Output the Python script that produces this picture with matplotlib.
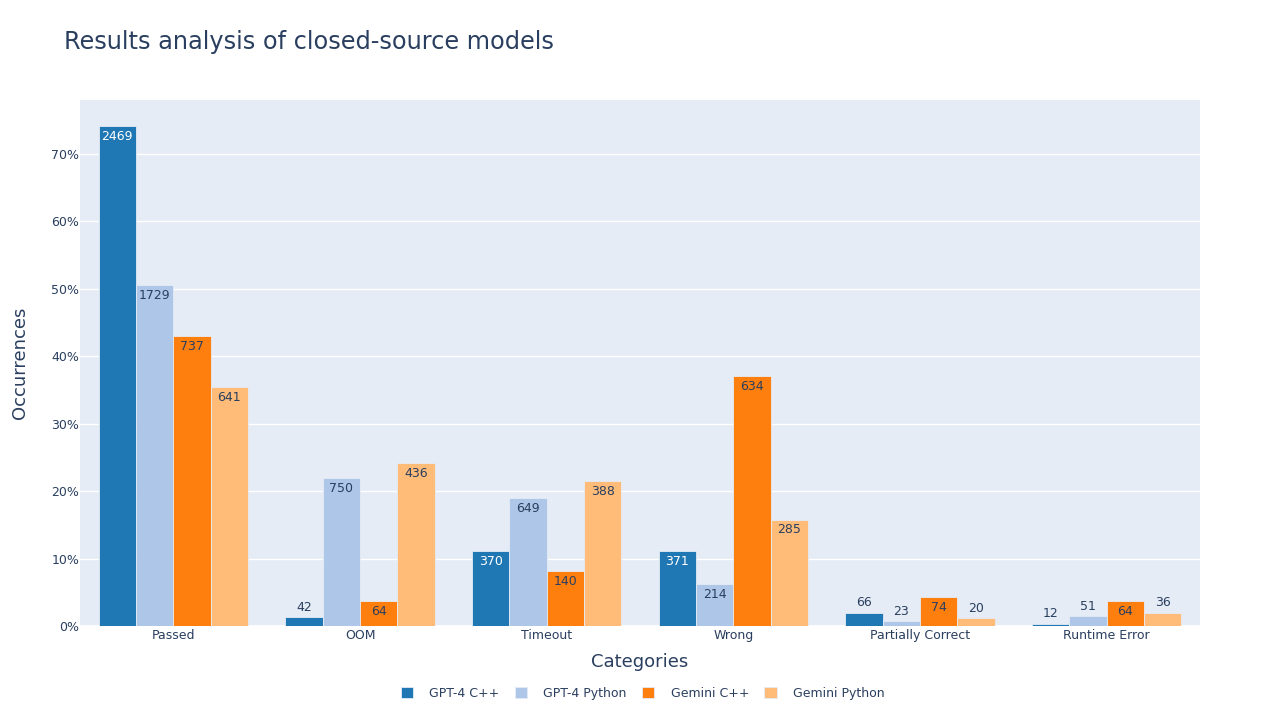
import matplotlib.pyplot as plt
import numpy as np

# ==========================================
# data
# ==========================================
categories = ['Passed', 'OOM', 'Timeout', 'Wrong', 'Partially Correct', 'Runtime Error']
series_names = ['GPT-4 C++', 'GPT-4 Python', 'Gemini C++', 'Gemini Python']

gpt4_cpp = [2469, 42, 370, 371, 66, 12]
gpt4_python = [1729, 750, 649, 214, 23, 51]
gemini_cpp = [737, 64, 140, 634, 74, 64]
gemini_python = [641, 436, 388, 285, 20, 36]

y_ticks = [0, 10, 20, 30, 40, 50, 60, 70]

colors = ['#1f77b4', '#aec7e8', '#ff7f0e', '#ffbb78']
text_inside_colors = ['white', '#2a3f5f', '#2a3f5f', '#2a3f5f']
font_color = '#2a3f5f'
bg_color = '#E5ECF6'

# ==========================================
# figure
# ==========================================
plt.rcParams['font.family'] = ['DejaVu Sans']

fig = plt.figure(figsize=(12.8, 7.2), dpi=100)
ax = fig.add_axes([0.0625, 0.1306, 0.875, 0.7306])
ax.set_facecolor(bg_color)

all_series = [gpt4_cpp, gpt4_python, gemini_cpp, gemini_python]
x = np.arange(len(categories))
width = 0.2
offsets = [-0.3, -0.1, 0.1, 0.3]

for i, counts in enumerate(all_series):
    counts = np.array(counts)
    pct = counts / counts.sum() * 100
    ax.bar(x + offsets[i], pct, width=width, color=colors[i],
           edgecolor=bg_color, linewidth=0.6, label=series_names[i], zorder=3)
    for xi, p, c in zip(x + offsets[i], pct, counts):
        if p > 2.5:
            # label inside, near the top of the bar
            ax.annotate(str(c), (xi, p), xytext=(0, -7.5), textcoords='offset points',
                        ha='center', va='center', fontsize=9,
                        color=text_inside_colors[i], zorder=4)
        else:
            # too short: label above the bar
            ax.annotate(str(c), (xi, p), xytext=(0, 7), textcoords='offset points',
                        ha='center', va='center', fontsize=9,
                        color=font_color, zorder=4)

ax.set_xlim(-0.5, len(categories) - 0.5)
ax.set_ylim(0, 78)
ax.set_yticks(y_ticks)
ax.set_yticklabels([f'{t}%' for t in y_ticks])
ax.set_xticks(x)
ax.set_xticklabels(categories)

ax.grid(True, axis='y', color='white', linewidth=1, zorder=0)
ax.axhline(0, color='white', linewidth=2, zorder=2)
ax.set_axisbelow(True)
for s in ax.spines.values():
    s.set_visible(False)
ax.tick_params(axis='both', length=0, labelsize=9, labelcolor=font_color)
ax.tick_params(axis='x', pad=2)
ax.tick_params(axis='y', pad=0.5)

ax.set_xlabel('Categories', fontsize=13, color=font_color, labelpad=8)
ax.set_ylabel('Occurrences', fontsize=13, color=font_color, labelpad=16)

fig.text(0.05, 0.942, 'Results analysis of closed-source models', fontsize=17.3,
         color=font_color, ha='left', va='center')

leg = ax.legend(loc='center', ncol=4, frameon=False, fontsize=9,
                handlelength=1.0, handleheight=1.0,
                handletextpad=1.3, columnspacing=1.2,
                bbox_to_anchor=(0.502, 0.037), bbox_transform=fig.transFigure)
for t in leg.get_texts():
    t.set_color(font_color)

fig.savefig('out.png', dpi=100)
